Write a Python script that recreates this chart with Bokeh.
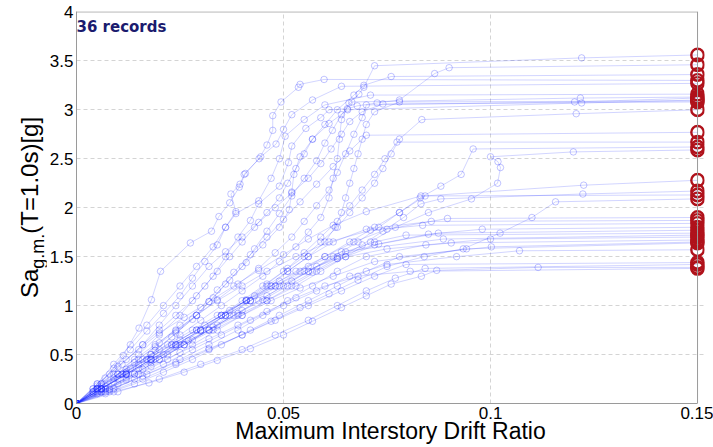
import math
from bokeh.plotting import figure
from bokeh.models import Range1d, FixedTicker, Label, Span, Div
from bokeh.layouts import row
from bokeh.embed import file_html
from bokeh.resources import INLINE

# ---- data: IDA curves (max interstory drift ratio, Sa_g.m.(T=1.0s) [g]) ----
rec01 = [(0,0),(0.005,0.12),(0.010,0.25),(0.015,0.40),(0.020,0.55),(0.025,0.70),(0.030,0.85),(0.035,1.00),(0.040,1.15),(0.045,1.30),(0.049,1.45),(0.053,1.60),(0.056,1.75),(0.059,1.90),(0.061,2.10),(0.062,2.30),(0.063,2.50),(0.0635,2.70),(0.064,2.90),(0.0658,3.07),(0.0682,3.16),(0.0694,3.23),(0.072,3.45),(0.122,3.53)]
rec02 = [(0,0),(0.005,0.15),(0.010,0.30),(0.015,0.50),(0.020,0.70),(0.025,0.90),(0.029,1.10),(0.033,1.30),(0.036,1.50),(0.039,1.70),(0.042,1.87),(0.044,2.04),(0.049,2.22),(0.0512,2.46),(0.052,2.63),(0.0554,2.81),(0.059,2.92),(0.061,3.00),(0.0654,3.01),(0.0678,3.04),(0.0726,3.07),(0.078,3.10),(0.0865,3.37),(0.090,3.43)]
rec03 = [(0,0),(0.004,0.15),(0.008,0.30),(0.012,0.45),(0.016,0.60),(0.020,0.75),(0.024,0.90),(0.028,1.05),(0.031,1.20),(0.034,1.35),(0.037,1.50),(0.040,1.65),(0.043,1.80),(0.046,1.95),(0.049,2.10),(0.051,2.25),(0.053,2.40),(0.055,2.55),(0.057,2.70),(0.060,2.85),(0.063,3.00),(0.067,3.15),(0.0694,3.25),(0.076,3.34)]
rec04 = [(0,0),(0.0040,0.12),(0.0069,0.26),(0.0113,0.49),(0.0151,0.77),(0.0181,1.06),(0.0203,1.35),(0.0275,1.64),(0.0326,1.76),(0.0344,1.91),(0.0370,2.05),(0.0393,2.21),(0.0408,2.35),(0.0441,2.50),(0.0460,2.64),(0.0474,2.79),(0.0474,2.94),(0.0494,3.08),(0.0536,3.23),(0.0540,3.26),(0.0598,3.31)]
rec05 = [(0,0),(0.005,0.18),(0.009,0.36),(0.013,0.55),(0.017,0.74),(0.021,0.92),(0.025,1.10),(0.028,1.28),(0.031,1.45),(0.034,1.62),(0.036,1.80),(0.0385,1.96),(0.0373,2.14),(0.0395,2.24),(0.0405,2.34),(0.0445,2.52),(0.0482,2.65),(0.0500,2.80),(0.0520,2.95),(0.0570,3.10),(0.0640,3.24)]
rec06 = [(0,0),(0.005,0.20),(0.009,0.40),(0.013,0.60),(0.017,0.80),(0.021,1.00),(0.025,1.20),(0.029,1.40),(0.033,1.60),(0.036,1.80),(0.0385,1.94),(0.0440,2.07),(0.0470,2.30),(0.0490,2.50),(0.0504,2.73),(0.0550,2.90),(0.0600,3.05),(0.0710,3.15)]
rec07 = [(0,0),(0.006,0.15),(0.012,0.32),(0.018,0.50),(0.023,0.68),(0.028,0.86),(0.032,1.04),(0.036,1.22),(0.040,1.40),(0.043,1.58),(0.046,1.76),(0.049,1.94),(0.052,2.12),(0.055,2.30),(0.058,2.48),(0.0600,2.66),(0.0618,2.79),(0.0640,2.95),(0.0665,3.08),(0.1217,3.12)]
rec08 = [(0,0),(0.004,0.12),(0.009,0.26),(0.014,0.42),(0.019,0.58),(0.024,0.74),(0.029,0.90),(0.034,1.06),(0.039,1.22),(0.044,1.38),(0.048,1.54),(0.052,1.70),(0.055,1.86),(0.058,2.02),(0.061,2.18),(0.063,2.36),(0.065,2.55),(0.067,2.75),(0.0690,2.92),(0.0700,3.05),(0.1203,3.08)]
rec09 = [(0,0),(0.007,0.18),(0.013,0.36),(0.019,0.54),(0.024,0.72),(0.029,0.90),(0.033,1.08),(0.037,1.26),(0.041,1.44),(0.045,1.62),(0.0490,1.80),(0.0514,1.98),(0.0520,2.16),(0.0525,2.34),(0.0540,2.52),(0.0570,2.70),(0.0610,2.86),(0.0655,3.00),(0.1220,3.07)]
rec10 = [(0,0),(0.005,0.15),(0.011,0.30),(0.017,0.45),(0.023,0.60),(0.029,0.75),(0.035,0.90),(0.041,1.05),(0.046,1.20),(0.051,1.35),(0.056,1.50),(0.060,1.65),(0.0625,1.80),(0.0640,1.95),(0.0650,2.10),(0.0660,2.25),(0.0670,2.40),(0.0680,2.55),(0.0690,2.70),(0.0700,2.85),(0.0720,2.98),(0.0780,3.08)]
rec11 = [(0,0),(0.006,0.20),(0.011,0.40),(0.016,0.60),(0.020,0.80),(0.024,1.00),(0.028,1.20),(0.032,1.40),(0.036,1.55),(0.040,1.70),(0.044,1.85),(0.048,2.00),(0.052,2.15),(0.056,2.30),(0.059,2.45),(0.0615,2.60),(0.0640,2.75),(0.0660,2.88),(0.0690,2.98),(0.0740,3.06)]
rec12 = [(0,0),(0.006,0.15),(0.012,0.30),(0.018,0.45),(0.024,0.60),(0.030,0.75),(0.035,0.90),(0.040,1.05),(0.045,1.20),(0.050,1.35),(0.055,1.50),(0.059,1.65),(0.063,1.80),(0.066,1.95),(0.069,2.10),(0.072,2.25),(0.074,2.40),(0.076,2.55),(0.078,2.70),(0.0834,2.90),(0.1207,2.96)]
rec13 = [(0,0),(0.005,0.15),(0.010,0.30),(0.015,0.45),(0.020,0.62),(0.025,0.80),(0.030,0.98),(0.034,1.16),(0.038,1.34),(0.042,1.52),(0.046,1.70),(0.050,1.88),(0.054,2.06),(0.058,2.24),(0.062,2.42),(0.066,2.58),(0.0700,2.74)]
rec14 = [(0,0),(0.006,0.12),(0.012,0.26),(0.018,0.42),(0.024,0.58),(0.030,0.74),(0.036,0.90),(0.041,1.06),(0.046,1.22),(0.051,1.38),(0.055,1.54),(0.059,1.70),(0.063,1.86),(0.066,2.02),(0.069,2.18),(0.072,2.34),(0.0745,2.50),(0.0774,2.67)]
rec15 = [(0,0),(0.007,0.15),(0.014,0.30),(0.020,0.45),(0.026,0.60),(0.032,0.75),(0.038,0.90),(0.044,1.05),(0.050,1.20),(0.056,1.35),(0.062,1.50),(0.068,1.65),(0.073,1.80),(0.078,1.95),(0.083,2.10),(0.088,2.22),(0.0929,2.34),(0.0958,2.60)]
rec16 = [(0,0),(0.006,0.15),(0.012,0.30),(0.018,0.45),(0.025,0.60),(0.032,0.75),(0.039,0.90),(0.046,1.05),(0.053,1.20),(0.059,1.35),(0.065,1.50),(0.071,1.65),(0.077,1.80),(0.085,1.95),(0.0954,2.09),(0.1017,2.25),(0.1024,2.41),(0.1018,2.47),(0.1000,2.52),(0.1200,2.57)]
rec17 = [(0,0),(0.006,0.15),(0.012,0.30),(0.018,0.45),(0.024,0.60),(0.030,0.75),(0.036,0.90),(0.042,1.05),(0.048,1.20),(0.054,1.35),(0.060,1.50),(0.066,1.65),(0.072,1.80),(0.078,1.95),(0.0842,2.12),(0.1225,2.23)]
rec18 = [(0,0),(0.004,0.10),(0.009,0.22),(0.015,0.36),(0.021,0.50),(0.027,0.64),(0.033,0.78),(0.039,0.92),(0.045,1.06),(0.051,1.20),(0.057,1.34),(0.063,1.48),(0.069,1.62),(0.074,1.76),(0.0790,1.90),(0.0832,2.04),(0.0880,2.09),(0.1223,2.14)]
rec19 = [(0,0),(0.005,0.20),(0.010,0.38),(0.015,0.55),(0.020,0.72),(0.026,0.88),(0.032,1.04),(0.038,1.20),(0.044,1.36),(0.050,1.52),(0.056,1.68),(0.062,1.82),(0.0700,1.96),(0.0832,2.12)]
rec20 = [(0,0),(0.008,0.14),(0.016,0.28),(0.024,0.42),(0.032,0.56),(0.040,0.70),(0.047,0.84),(0.054,0.98),(0.061,1.12),(0.068,1.26),(0.075,1.40),(0.0840,1.50),(0.0934,1.58),(0.1023,1.74),(0.1100,1.90),(0.1157,2.06)]
rec21 = [(0,0),(0.005,0.15),(0.011,0.30),(0.017,0.45),(0.023,0.60),(0.029,0.75),(0.035,0.90),(0.041,1.05),(0.047,1.20),(0.053,1.35),(0.060,1.50),(0.067,1.65),(0.075,1.78),(0.0896,1.89)]
rec22 = [(0,0),(0.007,0.15),(0.014,0.30),(0.020,0.45),(0.026,0.60),(0.032,0.75),(0.037,0.90),(0.042,1.05),(0.047,1.20),(0.051,1.35),(0.056,1.50),(0.062,1.65),(0.070,1.78),(0.0857,1.86)]
rec23 = [(0,0),(0.004,0.15),(0.009,0.30),(0.014,0.45),(0.019,0.60),(0.024,0.75),(0.029,0.90),(0.034,1.05),(0.040,1.20),(0.046,1.35),(0.053,1.50),(0.061,1.65),(0.071,1.77),(0.0836,1.82)]
rec24 = [(0,0),(0.008,0.15),(0.015,0.30),(0.022,0.45),(0.028,0.60),(0.034,0.75),(0.040,0.90),(0.046,1.05),(0.052,1.20),(0.058,1.35),(0.065,1.50),(0.073,1.63),(0.085,1.73),(0.0980,1.78)]
rec25 = [(0,0),(0.006,0.15),(0.012,0.30),(0.018,0.45),(0.024,0.60),(0.030,0.75),(0.036,0.90),(0.042,1.05),(0.049,1.20),(0.056,1.35),(0.063,1.50),(0.072,1.62),(0.0874,1.74)]
rec26 = [(0,0),(0.005,0.10),(0.010,0.20),(0.016,0.35),(0.022,0.50),(0.028,0.65),(0.034,0.80),(0.040,0.95),(0.046,1.10),(0.052,1.25),(0.058,1.40),(0.065,1.55),(0.0720,1.65),(0.0796,1.72)]
rec27 = [(0,0),(0.006,0.20),(0.012,0.35),(0.018,0.50),(0.025,0.65),(0.031,0.80),(0.037,0.95),(0.043,1.10),(0.049,1.25),(0.056,1.40),(0.064,1.55),(0.0886,1.68)]
rec28 = [(0,0),(0.009,0.15),(0.017,0.30),(0.025,0.45),(0.032,0.60),(0.039,0.75),(0.045,0.90),(0.051,1.05),(0.057,1.20),(0.063,1.35),(0.070,1.50),(0.0844,1.62),(0.1000,1.68)]
rec29 = [(0,0),(0.005,0.15),(0.010,0.30),(0.016,0.45),(0.022,0.60),(0.028,0.75),(0.034,0.90),(0.041,1.05),(0.048,1.20),(0.055,1.35),(0.063,1.48),(0.0750,1.58),(0.0905,1.64)]
rec30 = [(0,0),(0.007,0.10),(0.014,0.20),(0.021,0.32),(0.028,0.45),(0.035,0.60),(0.042,0.75),(0.049,0.90),(0.056,1.05),(0.063,1.20),(0.070,1.35),(0.078,1.50),(0.1002,1.60)]
rec31 = [(0,0),(0.006,0.15),(0.012,0.30),(0.019,0.45),(0.026,0.60),(0.033,0.75),(0.040,0.90),(0.047,1.05),(0.054,1.18),(0.062,1.30),(0.072,1.45),(0.0942,1.58)]
rec32 = [(0,0),(0.007,0.12),(0.014,0.25),(0.021,0.40),(0.028,0.55),(0.035,0.70),(0.042,0.85),(0.050,1.00),(0.058,1.15),(0.066,1.30),(0.075,1.42),(0.0918,1.50),(0.1070,1.56)]
rec33 = [(0,0),(0.008,0.12),(0.016,0.25),(0.024,0.40),(0.032,0.55),(0.040,0.70),(0.048,0.85),(0.056,1.00),(0.064,1.15),(0.072,1.30),(0.0796,1.42)]
rec34 = [(0,0),(0.010,0.12),(0.020,0.25),(0.030,0.40),(0.040,0.55),(0.048,0.70),(0.056,0.85),(0.063,1.00),(0.070,1.15),(0.077,1.28),(0.0842,1.38)]
rec35 = [(0,0),(0.009,0.12),(0.0175,0.21),(0.026,0.32),(0.034,0.44),(0.042,0.56),(0.050,0.70),(0.057,0.84),(0.064,0.98),(0.070,1.10),(0.076,1.22),(0.0833,1.30),(0.087,1.36),(0.1115,1.39)]
rec36 = [(0,0),(0.006,0.12),(0.012,0.24),(0.018,0.38),(0.025,0.52),(0.032,0.66),(0.039,0.80),(0.046,0.94),(0.053,1.08),(0.060,1.20),(0.0680,1.30),(0.0806,1.35)]

records = [rec01, rec02, rec03, rec04, rec05, rec06, rec07, rec08, rec09, rec10, rec11, rec12,
           rec13, rec14, rec15, rec16, rec17, rec18, rec19, rec20, rec21, rec22, rec23, rec24,
           rec25, rec26, rec27, rec28, rec29, rec30, rec31, rec32, rec33, rec34, rec35, rec36]

# collapse capacity (Sa) of each record, plotted at the drift cap
collapse_sa = [3.56, 3.46, 3.36, 3.30, 3.27, 3.16, 3.13, 3.12, 3.10, 3.09, 3.08, 3.00,
               2.77, 2.67, 2.62, 2.59, 2.28, 2.17, 2.13, 2.09,
               1.90, 1.87, 1.84, 1.80, 1.77, 1.74, 1.72, 1.70, 1.67, 1.65, 1.64, 1.57,
               1.44, 1.42, 1.39, 1.38]
collapse_drift = 0.15

x_ticks = [0, 0.05, 0.1, 0.15]
x_tick_labels = ["0", "0.05", "0.1", "0.15"]
y_ticks = [0, 0.5, 1, 1.5, 2, 2.5, 3, 3.5, 4]
y_tick_labels = ["0", "0.5", "1", "1.5", "2", "2.5", "3", "3.5", "4"]
n_records_text = "36 records"
x_title = "Maximum Interstory Drift Ratio"

# ---- figure ----
LABEL_W = 46
p = figure(width=713 - LABEL_W, height=447, output_backend="svg", toolbar_location=None,
           x_range=Range1d(0, 0.15168), y_range=Range1d(0, 4.004),
           min_border_left=73 - LABEL_W, min_border_right=9, min_border_top=11,
           min_border_bottom=44)
p.outline_line_color = None
p.background_fill_color = "white"

blue = "#1f2cff"
line_xs, line_ys, pt_x, pt_y = [], [], [], []
for rec, cap in zip(records, collapse_sa):
    xs = [pt[0] for pt in rec]
    ys = [pt[1] for pt in rec]
    line_xs.append(xs + [collapse_drift])
    line_ys.append(ys + [cap])
    pt_x.extend(xs)
    pt_y.extend(ys)

p.multi_line(line_xs, line_ys, line_color=blue, line_alpha=0.2, line_width=1)
p.scatter(pt_x, pt_y, marker="circle", size=6.5, fill_color=None,
          line_color=blue, line_alpha=0.28, line_width=1)
p.scatter([collapse_drift] * len(collapse_sa), collapse_sa, marker="circle", size=12.5,
          fill_color=None, line_color="#b0121b", line_width=2.4)

# border (top + right) like a boxed axes
p.segment(x0=[0], y0=[4], x1=[0.15], y1=[4], line_color="#9a9a9a", line_width=1)
p.add_layout(Span(location=0.15, dimension="height", line_color="#9a9a9a", line_width=1))

# axes
for ax in (p.xaxis[0], p.yaxis[0]):
    ax.axis_line_color = "#9a9a9a"
    ax.major_tick_line_color = None
    ax.minor_tick_line_color = None
    ax.major_tick_out = 0
    ax.major_tick_in = 0
    ax.minor_tick_out = 0
    ax.minor_tick_in = 0
    ax.major_label_text_font = "Liberation Sans"
    ax.major_label_text_font_size = "17px"
    ax.major_label_text_color = "black"
    ax.major_label_standoff = 3
p.xaxis.ticker = FixedTicker(ticks=x_ticks)
p.xaxis.major_label_overrides = dict(zip(x_ticks, x_tick_labels))
p.xaxis.bounds = (0, 0.15)
p.xaxis.axis_label = x_title
p.xaxis.axis_label_text_font = "Liberation Sans"
p.xaxis.axis_label_text_font_size = "23px"
p.xaxis.axis_label_text_font_style = "normal"
p.xaxis.axis_label_text_color = "black"
p.xaxis.axis_label_standoff = -4
p.yaxis.ticker = FixedTicker(ticks=y_ticks)
p.yaxis.major_label_overrides = dict(zip(y_ticks, y_tick_labels))

p.xgrid.ticker = FixedTicker(ticks=[0.05, 0.1])
p.ygrid.ticker = FixedTicker(ticks=[0.5, 1, 1.5, 2, 2.5, 3, 3.5])
for g in (p.xgrid[0], p.ygrid[0]):
    g.grid_line_color = "#d4d4d4"
    g.grid_line_dash = "4 3"
    g.grid_line_width = 1

p.add_layout(Label(x=0, y=377, x_units="screen", y_units="screen", text=n_records_text,
                   text_font="DejaVu Sans", text_font_style="bold", text_font_size="15px",
                   text_color="#1b1b6e", text_align="left", text_baseline="middle"))

# rotated y-axis title with subscript, as HTML text beside the plot
ylabel_html = (
    '<div style="position:relative;width:%dpx;height:447px;">'
    '<span style="position:absolute;left:18px;top:298px;transform-origin:0 0;'
    'transform:rotate(-90deg);white-space:nowrap;font-family:\'Liberation Sans\';'
    'font-size:24px;line-height:24px;color:black;">Sa<span style="font-size:18px;'
    'position:relative;top:6px;">g.m.</span>(T=1.0s)[g]</span></div>' % LABEL_W
)
ylabel = Div(text=ylabel_html, width=LABEL_W, height=447, margin=0)

layout = row(ylabel, p)
open("out.html", "w").write(file_html(layout, INLINE))
